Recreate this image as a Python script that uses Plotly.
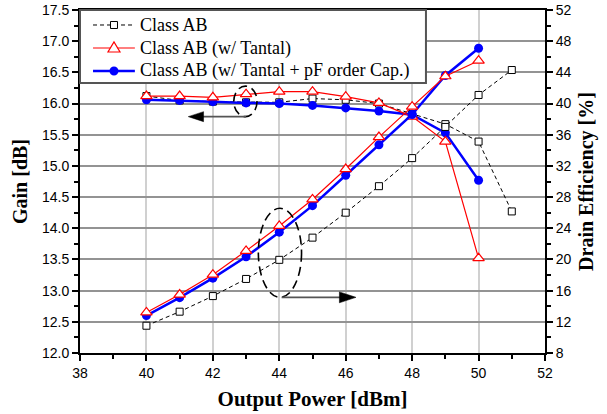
import plotly.graph_objects as go

# ---------------- data ----------------
power_ab = [40, 41, 42, 43, 44, 45, 46, 47, 48, 49, 50, 51]
power_cap = [40, 41, 42, 43, 44, 45, 46, 47, 48, 49, 50]

ab_gain = [16.12, 16.05, 16.03, 16.02, 16.02, 16.08, 16.06, 16.00, 15.83, 15.67, 15.39, 14.27]
ab_eff = [11.5, 13.3, 15.3, 17.5, 19.95, 22.8, 26.0, 29.4, 33.0, 37.0, 41.1, 44.3]

tantal_gain = [16.12, 16.12, 16.10, 16.15, 16.19, 16.19, 16.11, 16.01, 15.79, 15.39, 13.52]
tantal_eff = [13.2, 15.5, 18.05, 21.1, 24.3, 27.7, 31.6, 35.7, 39.6, 43.5, 45.5]

cap_gain = [16.06, 16.05, 16.03, 16.01, 16.00, 15.97, 15.93, 15.88, 15.82, 15.53, 14.77]
cap_eff = [12.8, 15.1, 17.6, 20.35, 23.5, 26.9, 30.8, 34.7, 38.6, 43.6, 47.1]

names = ["Class AB", "Class AB (w/ Tantal)", "Class AB (w/ Tantal + pF order Cap.)"]

SERIF = "Liberation Serif, Times New Roman, serif"
SANS = "Liberation Sans, Arial, sans-serif"

fig = go.Figure()

ab_line = dict(color="black", width=1, dash="4px,3px")
ab_marker = dict(symbol="square", size=7, color="white", line=dict(color="black", width=1))
fig.add_trace(go.Scatter(x=power_ab, y=ab_gain, name=names[0], mode="lines+markers",
                         line=ab_line, marker=ab_marker, yaxis="y"))
fig.add_trace(go.Scatter(x=power_ab, y=ab_eff, name=names[0], mode="lines+markers",
                         line=ab_line, marker=ab_marker, yaxis="y2"))

cap_line = dict(color="#0000ff", width=2.5)
cap_marker = dict(symbol="circle", size=9, color="#0000ff", line=dict(width=0))
fig.add_trace(go.Scatter(x=power_cap, y=cap_gain, name=names[2], mode="lines+markers",
                         line=cap_line, marker=cap_marker, yaxis="y"))
fig.add_trace(go.Scatter(x=power_cap, y=cap_eff, name=names[2], mode="lines+markers",
                         line=cap_line, marker=cap_marker, yaxis="y2"))

t_line = dict(color="#ff0000", width=1.2)
t_marker = dict(symbol="triangle-up", size=10, color="white", line=dict(color="#ff0000", width=1.2))
fig.add_trace(go.Scatter(x=power_cap, y=tantal_gain, name=names[1], mode="lines+markers",
                         line=t_line, marker=t_marker, yaxis="y"))
fig.add_trace(go.Scatter(x=power_cap, y=tantal_eff, name=names[1], mode="lines+markers",
                         line=t_line, marker=t_marker, yaxis="y2"))

# ---------------- annotations (ellipses + arrows) ----------------
ell_dash = "9px,5px"
shapes = [
    dict(type="circle", xref="x", yref="y", x0=42.63, x1=43.33, y0=15.79, y1=16.28,
         line=dict(color="black", width=1.6, dash=ell_dash)),
    dict(type="circle", xref="x", yref="y2", x0=43.37, x1=44.67, y0=15.14, y1=26.56,
         line=dict(color="black", width=1.6, dash=ell_dash)),
    dict(type="line", xref="x", yref="y", x0=41.7, x1=43.0, y0=15.79, y1=15.79,
         line=dict(color="#555555", width=1.6)),
    dict(type="path", xref="x", yref="y", path="M 41.26,15.79 L 41.72,15.87 L 41.72,15.71 Z",
         fillcolor="black", line=dict(color="black", width=0.5)),
    dict(type="line", xref="x", yref="y2", x0=44.07, x1=45.85, y0=15.14, y1=15.14,
         line=dict(color="#555555", width=1.6)),
    dict(type="path", xref="x", yref="y2", path="M 46.31,15.14 L 45.81,15.84 L 45.81,14.44 Z",
         fillcolor="black", line=dict(color="black", width=0.5)),
]

# ---------------- hand-made legend (paper coordinates) ----------------
leg_x1 = 0.744
leg_y0 = 0.787
rows_y = [0.9563, 0.8892, 0.8222]
samp_x0, samp_x1, samp_xm = 0.028, 0.118, 0.0731
text_x = 0.124

shapes.append(dict(type="rect", xref="paper", yref="paper", x0=0, x1=leg_x1, y0=leg_y0, y1=1,
                   fillcolor="white", line=dict(color="#555555", width=2), layer="above"))
legend_lines = [ab_line, t_line, cap_line]
for ly, ln in zip(rows_y, legend_lines):
    shapes.append(dict(type="line", xref="paper", yref="paper", x0=samp_x0, x1=samp_x1,
                       y0=ly, y1=ly, line=ln, layer="above"))
pix = dict(xref="paper", yref="paper", xsizemode="pixel", ysizemode="pixel", layer="above")
shapes.append(dict(type="rect", xanchor=samp_xm, yanchor=rows_y[0], x0=-3.5, x1=3.5, y0=-3.5, y1=3.5,
                   fillcolor="white", line=dict(color="black", width=1), **pix))
shapes.append(dict(type="path", xanchor=samp_xm, yanchor=rows_y[1], path="M -6,-4 L 6,-4 L 0,6 Z",
                   fillcolor="white", line=dict(color="#ff0000", width=1.2), **pix))
shapes.append(dict(type="circle", xanchor=samp_xm, yanchor=rows_y[2], x0=-4.5, x1=4.5, y0=-4.5, y1=4.5,
                   fillcolor="#0000ff", line=dict(width=0), **pix))

annotations = [
    dict(xref="paper", yref="paper", x=text_x, y=ly, text=nm, showarrow=False,
         xanchor="left", yanchor="middle", font=dict(family=SERIF, size=18, color="black"))
    for ly, nm in zip(rows_y, names)
]

axis_common = dict(
    showline=True, linecolor="black", linewidth=2, automargin=False,
    ticks="outside", ticklen=6, tickwidth=1.5, tickcolor="black",
    tickfont=dict(family=SANS, size=14, color="black"),
    ticklabeloverflow="allow",
    zeroline=False,
)

fig.update_layout(
    width=607, height=414,
    margin=dict(l=80, r=62, t=10, b=61),
    paper_bgcolor="white", plot_bgcolor="white",
    showlegend=False,
    xaxis=dict(range=[38, 52], dtick=2, tick0=38, mirror=True,
               showgrid=True, gridcolor="#d0d0d0", gridwidth=1.5,
               minor=dict(dtick=1, ticks="outside", ticklen=4, tickcolor="black", showgrid=False),
               title=dict(text="Output Power [dBm]", standoff=12,
                          font=dict(family=SERIF, size=21, color="black", weight="bold")),
               **axis_common),
    yaxis=dict(range=[12, 17.5], dtick=0.5, tick0=12, tickformat=".1f",
               showgrid=True, gridcolor="#939393", gridwidth=1.5,
               minor=dict(dtick=0.25, ticks="outside", ticklen=4, tickcolor="black", showgrid=False),
               title=dict(text="Gain [dB]", standoff=9,
                          font=dict(family=SERIF, size=20, color="black", weight="bold")),
               **axis_common),
    yaxis2=dict(range=[8, 52], dtick=4, tick0=8, overlaying="y", side="right",
                showgrid=False,
                minor=dict(dtick=2, ticks="outside", ticklen=4, tickcolor="black"),
                title=dict(text="Drain Efficiency [%]", standoff=8,
                           font=dict(family=SERIF, size=20, color="black", weight="bold")),
                **axis_common),
    shapes=shapes,
    annotations=annotations,
)

# remove the default 8px page margin so the figure sits at the window origin
fig.write_html("out.html",
               config={"displayModeBar": False},
               post_script="document.body.style.margin='0px';document.body.style.overflow='hidden';")
